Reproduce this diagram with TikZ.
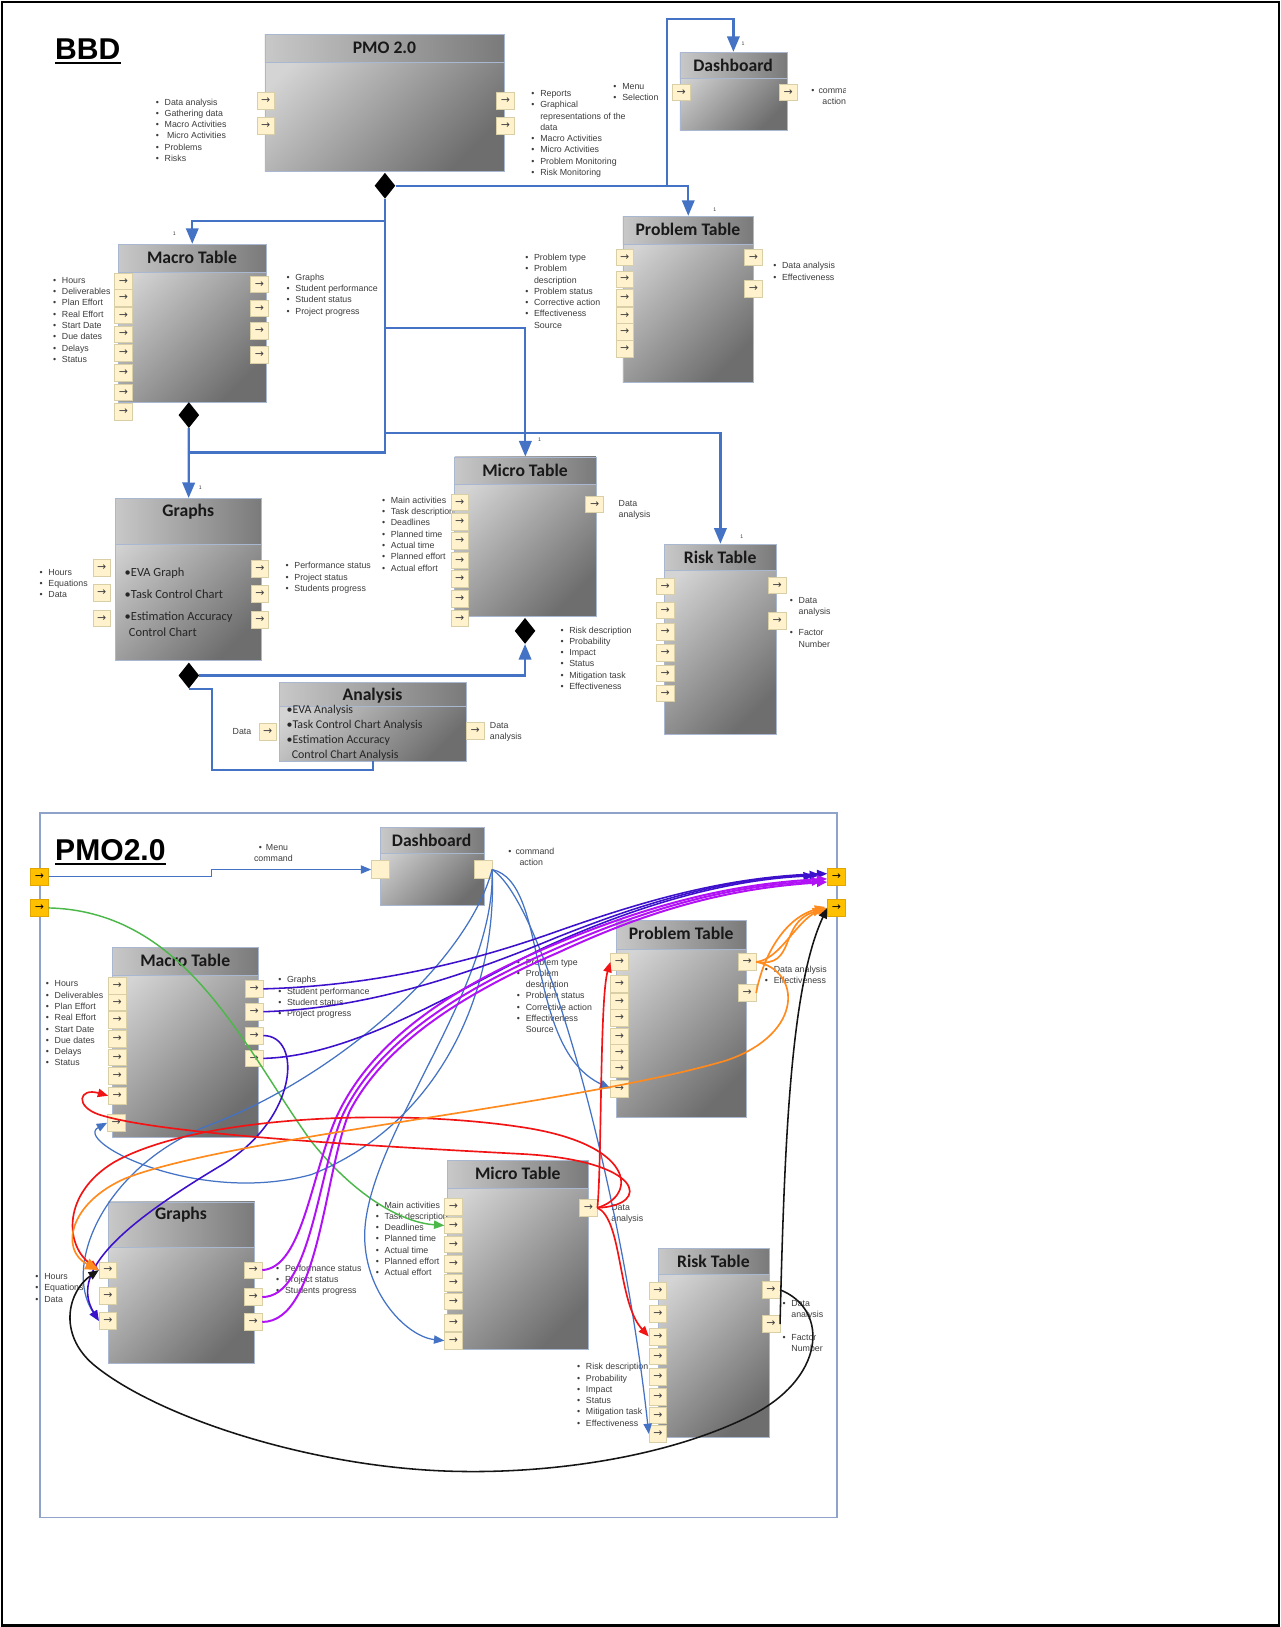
\documentclass[tikz,border=0pt]{standalone}
\usepackage{fontspec}
\setmainfont{Liberation Sans}
\newfontfamily\titlefont{Carlito}
\newfontfamily\arrfont{DejaVu Sans}
\usetikzlibrary{shapes.geometric,arrows.meta,calc}

\definecolor{bodyhi}{HTML}{D4D4D4}
\definecolor{bodylo}{HTML}{6E6E6E}
\definecolor{hdrhi}{HTML}{C8C8C8}
\definecolor{hdrlo}{HTML}{7A7A7A}
\definecolor{boxedge}{HTML}{A9B7D1}
\definecolor{portfill}{HTML}{FFF2CC}
\definecolor{portedge}{HTML}{D8CFA6}
\definecolor{gold}{HTML}{FFC000}
\definecolor{goldedge}{HTML}{E3A600}
\definecolor{linkblue}{HTML}{4472C4}
\definecolor{txtgray}{HTML}{3C3C3C}
\definecolor{frameblue}{HTML}{8FA2CA}
\definecolor{cindigo}{HTML}{3D10CC}
\definecolor{cmagenta}{HTML}{B012F5}
\definecolor{cred}{HTML}{F21414}
\definecolor{corange}{HTML}{FF8A1E}
\definecolor{cgreen}{HTML}{4CB849}
\definecolor{cblack}{HTML}{151515}

% bulleted line and indented continuation line
\newcommand\bitem[1]{\strut\makebox[8.5pt][l]{\textbullet}#1}
\newcommand\citem[1]{\strut\hspace*{8.5pt}#1}

\tikzset{
  body/.style={draw=boxedge, line width=0.6pt, top color=bodyhi, bottom color=bodylo,
    shading angle=45, inner sep=0pt, anchor=north west},
  hdr/.style={draw=boxedge, line width=0.6pt, left color=hdrhi, right color=hdrlo,
    inner sep=0pt, anchor=north west},
  ttl/.style={font=\titlefont\bfseries\fontsize{17}{17}\selectfont, text=black!90, inner sep=0pt},
  btxt/.style={font=\titlefont\fontsize{12}{12}\selectfont, text=black!85, inner sep=0pt, anchor=base west},
  port/.style={draw=portedge, line width=0.5pt, fill=portfill, minimum width=17pt,
    minimum height=16pt, inner sep=0pt, font=\arrfont\fontsize{10.5}{10.5}\selectfont, text=black!75},
  gport/.style={port, fill=gold, draw=goldedge, text=black},
  lst/.style={anchor=north west, align=left, inner sep=0pt,
    font=\fontsize{8.5}{10.85}\selectfont, text=txtgray},
  one/.style={font=\fontsize{5}{5}\selectfont, text=txtgray, inner sep=0pt},
  link/.style={draw=linkblue, line width=2.2pt},
  linkto/.style={link, -{Triangle[width=12pt,length=15pt]}},
  dia/.style={diamond, fill=black, minimum width=20pt, minimum height=25pt, inner sep=0pt},
  cv/.style={line width=1.4pt, -{Triangle[width=8pt,length=10pt]}},
  cvb/.style={cv, draw=linkblue, line width=1.2pt},
  cvi/.style={cv, draw=cindigo, line width=1.5pt},
  cvm/.style={cv, draw=cmagenta, line width=1.9pt},
  cvr/.style={cv, draw=cred, line width=1.6pt},
  cvo/.style={cv, draw=corange, line width=1.6pt},
  cvk/.style={cv, draw=cblack, line width=1.5pt},
  cvg/.style={cv, draw=cgreen, line width=1.4pt},
}

% block: name, x1, y1, x2, y2, header bottom, title
\newcommand\umlbox[7]{%
  \node[body, minimum width=#4-#2, minimum height=#5-#3] (#1) at (#2,#3) {};
  \node[hdr, minimum width=#4-#2, minimum height=#6-#3] (#1-h) at (#2,#3) {};
  \node[ttl] (#1-t) at ({(#2+#4)/2},#3+13) {#7};
}
\newcommand\portat[3]{\node[port] (#1) at (#2,#3) {→};}

\begin{document}
\begin{tikzpicture}[x=1pt,y=-1pt]
\useasboundingbox (0,0) rectangle (1234,1568);
\fill[white] (0,0) rectangle (1234,1568);
\draw[line width=2pt] (1.5,1.5) rectangle (1232.5,1566.5);

%================ BBD =================
\node[anchor=base west, inner sep=0pt, font=\bfseries\fontsize{29}{29}\selectfont] (bbd) at (53,57) {BBD};
\draw[line width=2pt] ($(bbd.base west)+(0,3.5)$) -- ($(bbd.base east)+(0,3.5)$);

\umlbox{pmo}{255}{33}{486}{165}{60}{PMO 2.0}
\umlbox{dashT}{655}{50}{758}{125}{75}{Dashboard}
\umlbox{probT}{600}{208}{726}{368}{235}{Problem Table}
\umlbox{macroT}{114}{235}{256}{387}{262}{Macro Table}
\umlbox{graphsT}{111}{480}{252}{636}{524}{Graphs}
\umlbox{microT}{438}{440}{574}{594}{466}{Micro Table}
\umlbox{riskT}{640}{524}{748}{707}{549}{Risk Table}
\umlbox{anaT}{269}{657}{449}{733}{680}{Analysis}

% block body texts
\node[btxt] (gb1) at (120,556) {•EVA Graph};
\node[btxt] (gb2) at (120,577) {•Task Control Chart};
\node[btxt] (gb3) at (120,598) {•Estimation Accuracy};
\node[btxt] (gb4) at (124,613) {Control Chart};
\node[btxt, font=\titlefont\fontsize{11.5}{11.5}\selectfont] (ab1) at (276,688) {•EVA Analysis};
\node[btxt, font=\titlefont\fontsize{11.5}{11.5}\selectfont] (ab2) at (276,702) {•Task Control Chart Analysis};
\node[btxt, font=\titlefont\fontsize{11.5}{11.5}\selectfont] (ab3) at (276,717) {•Estimation Accuracy};
\node[btxt, font=\titlefont\fontsize{11.5}{11.5}\selectfont] (ab4) at (281,731) {Control Chart Analysis};

% flow lists
\node[lst] (pmoIn) at (150,98-4.6) {\bitem{Data analysis}\\\bitem{Gathering data}\\\bitem{Macro Activities}\\\bitem{\ Micro Activities}\\\bitem{Problems}\\\bitem{Risks}};
\node[lst] (pmoOut) at (512,90-4.6) {\bitem{Reports}\\\bitem{Graphical}\\\citem{representations of the}\\\citem{data}\\\bitem{Macro Activities}\\\bitem{Micro Activities}\\\bitem{Problem Monitoring}\\\bitem{Risk Monitoring}};
\node[lst] (menuT) at (591,83-4.6) {\bitem{Menu}\\\bitem{Selection}};
\begin{scope}
  \clip (0,0) rectangle (815,200);
  \node[lst, align=center, anchor=north] (cmdT) at (804,87-4.6) {\strut\textbullet\hspace{4pt}command\\\strut action};
\end{scope}
\node[lst] (probTin) at (506,248-4.6) {\bitem{Problem type}\\\bitem{Problem}\\\citem{description}\\\bitem{Problem status}\\\bitem{Corrective action}\\\bitem{Effectiveness}\\\citem{Source}};
\node[lst] (probTout) at (745,256-4.6) {\bitem{Data analysis}\\\bitem{Effectiveness}};
\node[lst] (macroTin) at (51,270-4.6) {\bitem{Hours}\\\bitem{Deliverables}\\\bitem{Plan Effort}\\\bitem{Real Effort}\\\bitem{Start Date}\\\bitem{Due dates}\\\bitem{Delays}\\\bitem{Status}};
\node[lst] (macroTout) at (276,267-4.6) {\bitem{Graphs}\\\bitem{Student performance}\\\bitem{Student status}\\\bitem{Project progress}};
\node[lst] (graphsTin) at (38,551-4.6) {\bitem{Hours}\\\bitem{Equations}\\\bitem{Data}};
\node[lst] (graphsTout) at (275,545-4.6) {\bitem{Performance status}\\\bitem{Project status}\\\bitem{Students progress}};
\node[lst] (microTin) at (368,482-4.6) {\bitem{Main activities}\\\bitem{Task description}\\\bitem{Deadlines}\\\bitem{Planned time}\\\bitem{Actual time}\\\bitem{Planned effort}\\\bitem{Actual effort}};
\node[lst] (microTout) at (596,485-4.6) {\strut Data\\\strut analysis};
\node[lst] (riskTin) at (540,607-4.6) {\bitem{Risk description}\\\bitem{Probability}\\\bitem{Impact}\\\bitem{Status}\\\bitem{Mitigation task}\\\bitem{Effectiveness}};
\node[lst] (riskTout) at (761,578-4.6) {\bitem{Data}\\\citem{analysis}\\[10pt]\bitem{Factor}\\\citem{Number}};
\node[lst] (anaTin) at (224,705-4.6) {\strut Data};
\node[lst] (anaTout) at (472,699-4.6) {\strut Data\\\strut analysis};

% ports
\portat{pmoL1}{256}{97} \portat{pmoL2}{256}{121}
\portat{pmoR1}{487}{97} \portat{pmoR2}{487}{121}
\portat{dtL}{656.5}{89} \portat{dtR}{759.5}{89}
\foreach \yy [count=\i] in {248,269,287,304,320,336} {\portat{ptl\i}{602}{\yy}}
\portat{ptr1}{726}{248} \portat{ptr2}{726}{278}
\foreach \yy [count=\i] in {271,287,304,322,340,359,378,397} {\portat{mtl\i}{119}{\yy}}
\foreach \yy [count=\i] in {274,297,319,342} {\portat{mtr\i}{250}{\yy}}
\foreach \yy [count=\i] in {547,571,596} {\portat{gtl\i}{98}{\yy}}
\foreach \yy [count=\i] in {548,572.5,597} {\portat{gtr\i}{250.5}{\yy}}
\foreach \yy [count=\i] in {484,503,521,540,558,577,596} {\portat{itl\i}{443}{\yy}}
\portat{itr}{573}{486}
\foreach \yy [count=\i] in {565,588,609,629,649,668} {\portat{rtl\i}{641}{\yy}}
\portat{rtr1}{749}{564} \portat{rtr2}{749}{598}
\portat{atl}{258}{705} \portat{atr}{458}{704}

% composition links
\node[dia] (pmoD) at (371,179) {};
\node[dia] (macroD) at (182,400) {};
\node[dia] (graphsD) at (182,651) {};
\node[dia] (microD) at (506,608) {};
\coordinate (jDash) at (643,179);
\coordinate (jMacro) at (371,213);
\coordinate (jMicro) at (371,316);
\coordinate (jRisk) at (371,417);
\coordinate (jBot) at (371,436);
\draw[linkto] (pmoD.east) -| (probT-h.north);
\draw[linkto] (jDash) -- (643,18) -| (dashT-h.north);
\draw[link] (pmoD.south) -- (jBot) -- (182,436);
\draw[linkto] (jMacro) -| (macroT-h.north);
\draw[linkto] (jMicro) -| (microT-h.north);
\draw[linkto] (jRisk) -| (riskT-h.north);
\draw[linkto] (macroD.south) -- (graphsT-h.north);
\draw[linkto] (graphsD.east) -| (microD.south);
\draw[link] (graphsD.south) -| (204,742) -| (anaT.south);

\node[one] (n1) at (168,225) {1};
\node[one] (n2) at (716,42) {1};
\node[one] (n3) at (689,202) {1};
\node[one] (n4) at (520,424) {1};
\node[one] (n5) at (715,517) {1};
\node[one] (n6) at (193,470) {1};

%================ PMO2.0 =================
\node[draw=frameblue, line width=1.2pt, minimum width=768, minimum height=679,
      anchor=north west, inner sep=0pt] (pmoFrame) at (38,783) {};
\node[anchor=base west, inner sep=0pt, font=\bfseries\fontsize{29}{29}\selectfont] (pmoTitle) at (53,829) {PMO2.0};
\draw[line width=2pt] ($(pmoTitle.base west)+(0,3.5)$) -- ($(pmoTitle.base east)+(0,3.5)$);

\umlbox{dashB}{366}{797}{466}{872}{822}{Dashboard}
\umlbox{macroB}{108}{913}{249}{1096}{940}{Macro Table}
\umlbox{graphsB}{104}{1158}{245}{1314}{1202}{Graphs}
\umlbox{microB}{431}{1118}{567}{1300}{1145}{Micro Table}
\umlbox{probB}{594}{887}{719}{1076}{915}{Problem Table}
\umlbox{riskB}{634}{1203}{741}{1385}{1228}{Risk Table}

\node[lst, align=center, anchor=north] (menuB) at (263.5,816-4.6) {\strut\textbullet\hspace{4pt}Menu\\\strut command};
\node[lst, align=center, anchor=north] (cmdB) at (512,820-4.6) {\strut\textbullet\hspace{4pt}command\\\strut action};
\node[lst] (macroBin) at (44,948-4.6) {\bitem{Hours}\\\bitem{Deliverables}\\\bitem{Plan Effort}\\\bitem{Real Effort}\\\bitem{Start Date}\\\bitem{Due dates}\\\bitem{Delays}\\\bitem{Status}};
\node[lst] (macroBout) at (268,944-4.6) {\bitem{Graphs}\\\bitem{Student performance}\\\bitem{Student status}\\\bitem{Project progress}};
\node[lst] (graphsBin) at (34,1230-4.6) {\bitem{Hours}\\\bitem{Equations}\\\bitem{Data}};
\node[lst] (graphsBout) at (266,1222-4.6) {\bitem{Performance status}\\\bitem{Project status}\\\bitem{Students progress}};
\node[lst] (microBin) at (362,1161-4.6) {\bitem{Main activities}\\\bitem{Task description}\\\bitem{Deadlines}\\\bitem{Planned time}\\\bitem{Actual time}\\\bitem{Planned effort}\\\bitem{Actual effort}};
\node[lst] (microBout) at (589,1163-4.6) {\strut Data\\\strut analysis};
\node[lst] (probBin) at (498,927-4.6) {\bitem{Problem type}\\\bitem{Problem}\\\citem{description}\\\bitem{Problem status}\\\bitem{Corrective action}\\\bitem{Effectiveness}\\\citem{Source}};
\node[lst] (probBout) at (737,934-4.6) {\bitem{Data analysis}\\\bitem{Effectiveness}};
\node[lst] (riskBin) at (556,1317-4.6) {\bitem{Risk description}\\\bitem{Probability}\\\bitem{Impact}\\\bitem{Status}\\\bitem{Mitigation task}\\\bitem{Effectiveness}};
\node[lst] (riskBout) at (754,1256-4.6) {\bitem{Data}\\\citem{analysis}\\[11pt]\bitem{Factor}\\\citem{Number}};

% ports
\node[gport] (g1) at (38,845) {→};
\node[gport] (g2) at (38,875) {→};
\node[gport] (r1) at (806,845) {→};
\node[gport] (r2) at (806,875) {→};
\node[port, minimum width=17pt, minimum height=17pt] (dbl) at (366.5,838) {};
\node[port, minimum width=17pt, minimum height=17pt] (dbr) at (465.5,838) {};
\foreach \yy [count=\i] in {950,966,983,1001,1019,1037,1056} {\portat{mbl\i}{113}{\yy}}
\portat{mbl8}{112}{1082}
\foreach \yy [count=\i] in {953,975,998,1020} {\portat{mbr\i}{245}{\yy}}
\foreach \yy [count=\i] in {1224,1249,1273} {\portat{gbl\i}{104}{\yy}}
\foreach \yy [count=\i] in {1224,1250,1274} {\portat{gbr\i}{244}{\yy}}
\foreach \yy [count=\i] in {1163,1181,1199,1218,1236,1254,1275,1292} {\portat{mil\i}{437}{\yy}}
\portat{mir}{567}{1164}
\foreach \yy [count=\i] in {927,948,965,981,999,1014,1030,1049} {\portat{pbl\i}{597}{\yy}}
\portat{pbr1}{720}{927} \portat{pbr2}{720}{957}
\foreach \yy [count=\i] in {1244,1266,1288,1307,1327,1346,1364,1382} {\portat{rbl\i}{634}{\yy}}
\portat{rbr1}{743}{1243} \portat{rbr2}{743}{1276}

% flows: menu command into the dashboard
\draw[cvb] (g1.east) -- (204,845) |- (dbl.west);
% data input into the micro table
\draw[cvg] (g2.east) .. controls (180,878) and (235,1010) .. (300,1100) .. controls (340,1150) and (385,1178) .. (mil2.west);
% dashboard commands
\draw[cvb] (dbr.east) .. controls (530,850) and (505,1010) .. (pbl8.west);
\draw[cvb] (dbr.east) .. controls (525,870) and (600,1150) .. (rbl8.west);
\draw[cvb] (dbr.east) .. controls (480,960) and (420,1085) .. (300,1132) .. controls (190,1162) and (70,1100) .. (mbl8.west);
\draw[cvb] (dbr.east) .. controls (478,950) and (362,1085) .. (352,1180) .. controls (346,1240) and (390,1288) .. (mil8.west);
\draw[cvb] (dbr.east) .. controls (450,930) and (320,1040) .. (200,1085) .. controls (100,1125) and (60,1220) .. (gbl3.west);
% macro table outputs
\draw[cvi] (mbr1.east) .. controls (360,950) and (450,928) .. (530,900) .. controls (620,868) and (700,845) .. ($(r1.west)+(0,-3)$);
\draw[cvi] (mbr2.east) .. controls (360,972) and (460,935) .. (535,904) .. controls (620,870) and (700,846) .. ($(r1.west)+(-7,-2)$);
\draw[cvi] (mbr4.east) .. controls (340,1018) and (440,955) .. (525,913) .. controls (615,872) and (700,848) .. ($(r1.west)+(-13,-1)$);
\draw[cvi] (mbr3.east) .. controls (292,998) and (288,1080) .. (210,1125) .. controls (110,1185) and (68,1228) .. (gbl3.west);
% graphs outputs
\draw[cvm] (gbr1.east) .. controls (292,1222) and (300,1130) .. (325,1075) .. controls (360,1000) and (440,950) .. (530,912) .. controls (620,874) and (700,852) .. ($(r1.west)+(0,2)$);
\draw[cvm] (gbr2.east) .. controls (300,1250) and (306,1130) .. (331,1073) .. controls (366,1002) and (445,954) .. (534,915) .. controls (622,876) and (700,854) .. ($(r1.west)+(-5,4)$);
\draw[cvm] (gbr3.east) .. controls (308,1274) and (312,1130) .. (337,1071) .. controls (372,1004) and (450,956) .. (538,918) .. controls (624,878) and (700,856) .. ($(r1.west)+(0,5)$);
% micro table outputs
\draw[cvr] (mir.east) .. controls (615,1152) and (612,1102) .. (501,1086) .. controls (380,1068) and (190,1075) .. (110,1120) .. controls (60,1150) and (62,1200) .. (gbl1.west);
\draw[cvr] (mir.east) .. controls (628,1162) and (622,1118) .. (501,1112) .. controls (330,1103) and (150,1092) .. (95,1074) .. controls (72,1066) and (76,1048) .. (mbl7.west);
\draw[cvr] (mir.east) .. controls (580,1120) and (578,962) .. (pbl1.west);
\draw[cvr] (mir.east) .. controls (600,1175) and (595,1255) .. (rbl3.west);
% problem table outputs
\draw[cvo, -{Triangle[width=11pt,length=13pt]}] (pbr1.east) .. controls (772,935) and (776,996) .. (700,1022) .. controls (550,1066) and (220,1096) .. (120,1136) .. controls (66,1160) and (58,1205) .. (gbl1.west);
\draw[cvo] (pbr1.east) .. controls (752,925) and (768,886) .. (r2.west);
\draw[cvo] (pbr1.east) .. controls (768,933) and (750,890) .. ($(r2.west)+(-4,1)$);
\draw[cvo] (pbr2.east) .. controls (736,918) and (758,884) .. ($(r2.west)+(-2,-1)$);
% risk table outputs
\draw[cvk] (rbr1.east) .. controls (800,1262) and (796,1330) .. (720,1366) .. controls (640,1405) and (530,1420) .. (440,1418) .. controls (300,1415) and (150,1365) .. (90,1315) .. controls (55,1285) and (66,1244) .. (gbl1.west);
\draw[cvk] (rbr2.east) .. controls (756,1100) and (762,950) .. (r2.west);
\end{tikzpicture}
\end{document}
